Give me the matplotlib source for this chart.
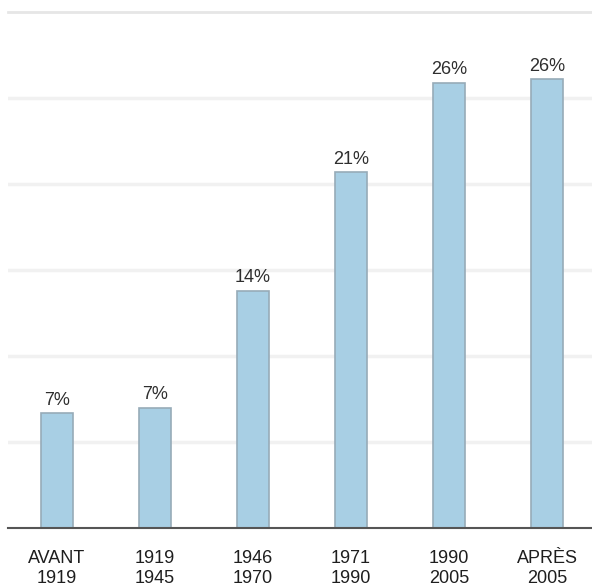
from matplotlib import pyplot as plt

categories = ['AVANT\n1919', '1919\n1945', '1946\n1970', '1971\n1990', '1990\n2005', 'APRÈS\n2005']
values = [6.7, 7.0, 13.8, 20.7, 25.9, 26.1]
labels = ['7%', '7%', '14%', '21%', '26%', '26%']

plt.rcParams['font.family'] = ['Liberation Sans', 'DejaVu Sans']

fig = plt.figure(figsize=(5.92, 5.87), dpi=100)
ax = fig.add_axes([8 / 592, 59 / 587, 588 / 592, 516 / 587])

x = range(len(categories))
bars = ax.bar(x, values, width=0.33, color='#a8cfe4', edgecolor='#97abb8', linewidth=1.2, zorder=3)

for b, lab in zip(bars, labels):
    ax.annotate(lab, (b.get_x() + b.get_width() / 2, b.get_height()),
                xytext=(0, 3), textcoords='offset points', ha='center', va='bottom',
                fontsize=13, color='#2e2e2e')

ax.set_xlim(-0.5, 5.5)
ax.set_ylim(0, 30)
ax.set_yticks([5, 10, 15, 20, 25])
ax.yaxis.grid(True, color='#f1f1f1', linewidth=2.5, zorder=0)
ax.axhline(30, color='#e6e6e6', linewidth=2, zorder=0, clip_on=False)
ax.tick_params(axis='y', left=False, labelleft=False)
ax.tick_params(axis='x', length=0, pad=16)
ax.set_xticks(list(x))
ax.set_xticklabels(categories, fontsize=13, color='#1e1e1e', linespacing=1.2)

for s in ['top', 'right', 'left']:
    ax.spines[s].set_visible(False)
ax.spines['bottom'].set_color('#555555')
ax.spines['bottom'].set_linewidth(1.5)
ax.spines['bottom'].set_zorder(4)

fig.savefig('out.png', dpi=100)
